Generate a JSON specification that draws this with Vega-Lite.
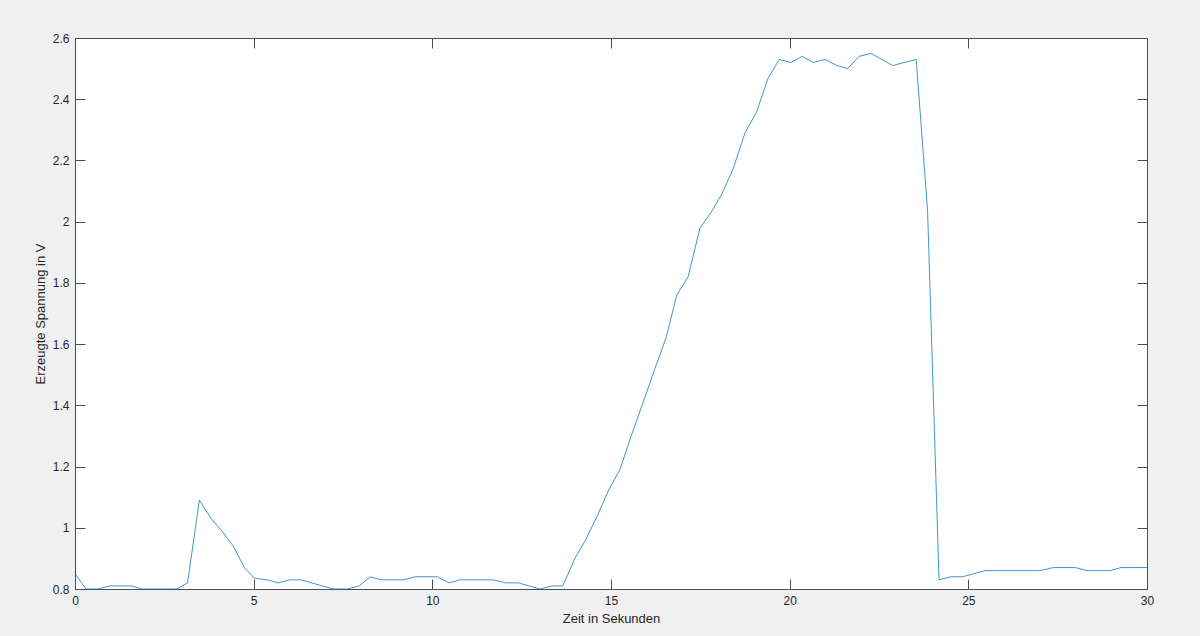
{
  "$schema": "https://vega.github.io/schema/vega-lite/v6.json",
  "width": 1072,
  "height": 551,
  "autosize": {"type": "none"},
  "padding": {"left": 75, "top": 38, "right": 53, "bottom": 47},
  "background": "#f0f0f0",
  "config": {
    "view": {"fill": "#ffffff", "stroke": "#4d4d4d", "strokeWidth": 1},
    "font": "Liberation Sans",
    "axis": {
      "grid": false,
      "domainColor": "#4d4d4d",
      "tickColor": "#4d4d4d",
      "labelColor": "#262626",
      "titleColor": "#262626",
      "labelFont": "Liberation Sans",
      "titleFont": "Liberation Sans",
      "labelFontSize": 12,
      "titleFontSize": 13,
      "titleFontWeight": "normal",
      "tickSize": -10,
      "labelPadding": 16
    }
  },
  "data": {
    "values": [
      {"t": 0, "v": 0.85},
      {"t": 0.31, "v": 0.80},
      {"t": 0.65, "v": 0.80},
      {"t": 0.96, "v": 0.81},
      {"t": 1.59, "v": 0.81},
      {"t": 1.87, "v": 0.80},
      {"t": 2.85, "v": 0.80},
      {"t": 3.15, "v": 0.82},
      {"t": 3.48, "v": 1.09},
      {"t": 3.81, "v": 1.03},
      {"t": 4.11, "v": 0.99},
      {"t": 4.43, "v": 0.94},
      {"t": 4.74, "v": 0.87},
      {"t": 5.02, "v": 0.835},
      {"t": 5.38, "v": 0.83},
      {"t": 5.69, "v": 0.82},
      {"t": 6.02, "v": 0.83},
      {"t": 6.32, "v": 0.83},
      {"t": 7.23, "v": 0.80},
      {"t": 7.62, "v": 0.80},
      {"t": 7.95, "v": 0.81},
      {"t": 8.26, "v": 0.84},
      {"t": 8.56, "v": 0.83},
      {"t": 9.19, "v": 0.83},
      {"t": 9.52, "v": 0.84},
      {"t": 10.14, "v": 0.84},
      {"t": 10.47, "v": 0.82},
      {"t": 10.77, "v": 0.83},
      {"t": 11.71, "v": 0.83},
      {"t": 12.05, "v": 0.82},
      {"t": 12.41, "v": 0.82},
      {"t": 13.01, "v": 0.80},
      {"t": 13.34, "v": 0.81},
      {"t": 13.65, "v": 0.81},
      {"t": 13.99, "v": 0.90},
      {"t": 14.29, "v": 0.96},
      {"t": 14.62, "v": 1.04},
      {"t": 14.92, "v": 1.12},
      {"t": 15.25, "v": 1.19},
      {"t": 15.58, "v": 1.305},
      {"t": 15.93, "v": 1.42},
      {"t": 16.23, "v": 1.52},
      {"t": 16.54, "v": 1.62},
      {"t": 16.84, "v": 1.76},
      {"t": 17.16, "v": 1.82},
      {"t": 17.49, "v": 1.98},
      {"t": 17.80, "v": 2.03},
      {"t": 18.10, "v": 2.09},
      {"t": 18.41, "v": 2.17},
      {"t": 18.75, "v": 2.29},
      {"t": 19.08, "v": 2.36},
      {"t": 19.40, "v": 2.47},
      {"t": 19.71, "v": 2.53},
      {"t": 20.03, "v": 2.52},
      {"t": 20.35, "v": 2.54},
      {"t": 20.66, "v": 2.52},
      {"t": 20.99, "v": 2.53},
      {"t": 21.32, "v": 2.51},
      {"t": 21.62, "v": 2.50},
      {"t": 21.95, "v": 2.54},
      {"t": 22.27, "v": 2.55},
      {"t": 22.58, "v": 2.53},
      {"t": 22.88, "v": 2.51},
      {"t": 23.21, "v": 2.52},
      {"t": 23.54, "v": 2.53},
      {"t": 23.86, "v": 2.035},
      {"t": 24.18, "v": 0.83},
      {"t": 24.51, "v": 0.84},
      {"t": 24.84, "v": 0.84},
      {"t": 25.47, "v": 0.86},
      {"t": 27.01, "v": 0.86},
      {"t": 27.38, "v": 0.87},
      {"t": 27.99, "v": 0.87},
      {"t": 28.32, "v": 0.86},
      {"t": 28.97, "v": 0.86},
      {"t": 29.27, "v": 0.87},
      {"t": 30.0, "v": 0.87}
    ]
  },
  "layer": [
    {
      "mark": {"type": "line", "color": "#0072bd", "strokeWidth": 1, "opacity": 0.75},
      "encoding": {
        "x": {
          "field": "t", "type": "quantitative",
          "scale": {"domain": [0, 30], "nice": false, "zero": false},
          "axis": {"values": [0, 5, 10, 15, 20, 25, 30], "title": "Zeit in Sekunden", "titlePadding": 6, "labelFlush": false, "format": "~g"}
        },
        "y": {
          "field": "v", "type": "quantitative",
          "scale": {"domain": [0.8, 2.6], "nice": false, "zero": false},
          "axis": {"values": [0.8, 1, 1.2, 1.4, 1.6, 1.8, 2, 2.2, 2.4, 2.6], "title": "Erzeugte Spannung in V", "titlePadding": 5, "labelFlush": false, "format": "~g"}
        }
      }
    },
    {
      "mark": {"type": "line", "opacity": 0},
      "encoding": {
        "x": {"field": "t", "type": "quantitative", "axis": {"orient": "top", "values": [0, 5, 10, 15, 20, 25, 30], "labels": false, "title": null, "tickSize": -10}},
        "y": {"field": "v", "type": "quantitative", "axis": {"orient": "right", "values": [0.8, 1, 1.2, 1.4, 1.6, 1.8, 2, 2.2, 2.4, 2.6], "labels": false, "title": null, "tickSize": -10}}
      }
    }
  ],
  "resolve": {"axis": {"x": "independent", "y": "independent"}}
}
